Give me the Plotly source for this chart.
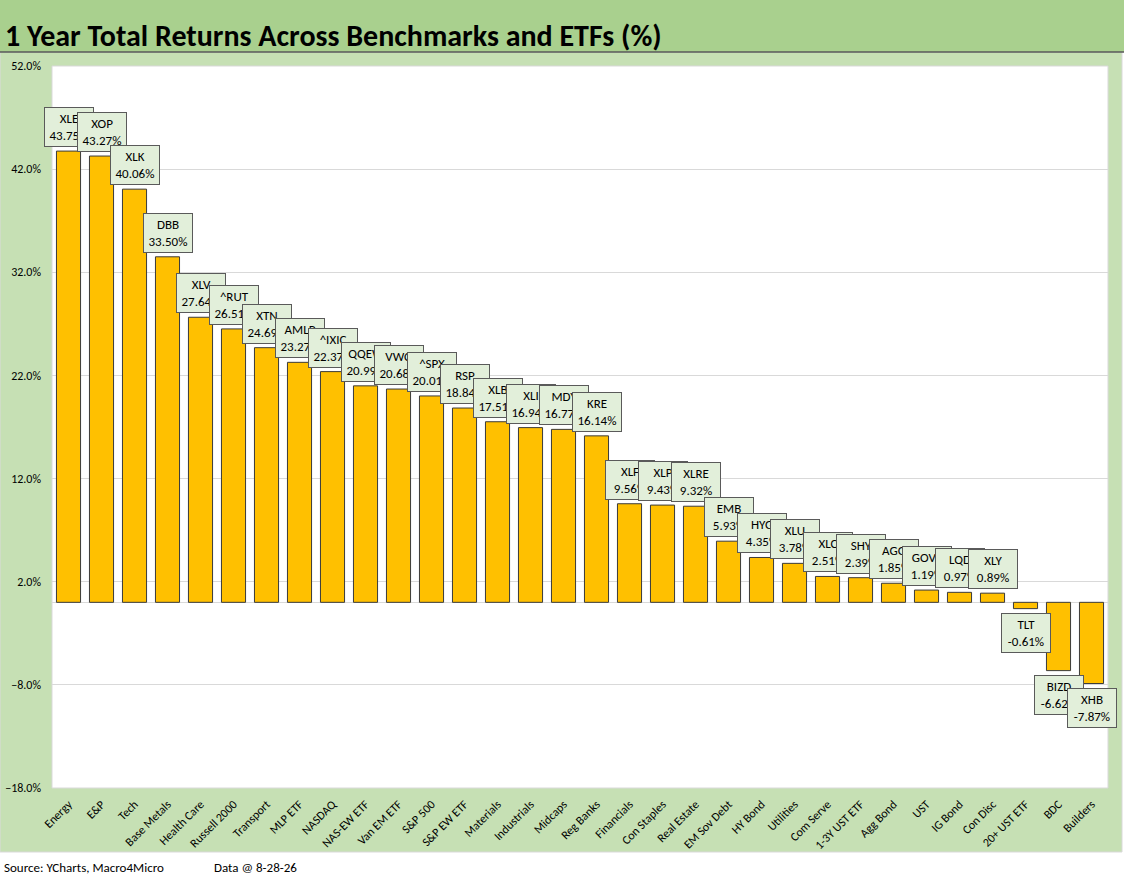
import plotly.graph_objects as go

categories = [
    "Energy", "E&P", "Tech", "Base Metals", "Health Care", "Russell 2000",
    "Transport", "MLP ETF", "NASDAQ", "NAS-EW ETF", "Van EM ETF", "S&P 500",
    "S&P EW ETF", "Materials", "Industrials", "Midcaps", "Reg Banks",
    "Financials", "Con Staples", "Real Estate", "EM Sov Debt", "HY Bond",
    "Utilities", "Com Serve", "1-3Y UST ETF", "Agg Bond", "UST", "IG Bond",
    "Con Disc", "20+ UST ETF", "BDC", "Builders",
]
tickers = [
    "XLE", "XOP", "XLK", "DBB", "XLV", "^RUT", "XTN", "AMLP", "^IXIC", "QQEW",
    "VWO", "^SPX", "RSP", "XLB", "XLI", "MDY", "KRE", "XLF", "XLP", "XLRE",
    "EMB", "HYG", "XLU", "XLC", "SHY", "AGG", "GOVT", "LQD", "XLY", "TLT",
    "BIZD", "XHB",
]
returns = [
    43.75, 43.27, 40.06, 33.50, 27.64, 26.51, 24.69, 23.27, 22.37, 20.99,
    20.68, 20.01, 18.84, 17.51, 16.94, 16.77, 16.14, 9.56, 9.43, 9.32,
    5.93, 4.35, 3.78, 2.51, 2.39, 1.85, 1.19, 0.97, 0.89, -0.61,
    -6.62, -7.87,
]

W, H = 1126, 885
L, R, T, B = 52, 18, 66, 97
FONT = "Carlito, Lato, Liberation Sans, sans-serif"


def px(x):
    return (x - L) / (W - L - R)


def py(y):
    return 1 - (y - T) / (H - T - B)


fig = go.Figure()

fig.add_trace(go.Bar(
    x=categories, y=returns,
    marker=dict(color="#ffc000", line=dict(color="#3a3a3a", width=1)),
    hoverinfo="x+y",
))

# data label boxes
for cat, tk, v in zip(categories, tickers, returns):
    pos = v >= 0
    fig.add_annotation(
        x=cat, y=v, xref="x", yref="y",
        text=f"{tk}<br>{v:.2f}%",
        showarrow=False,
        yanchor="bottom" if pos else "top",
        yshift=4 if pos else -4,
        font=dict(family=FONT, size=13, color="black"),
        bgcolor="#e2efda", bordercolor="#5a5a5a", borderwidth=1,
        borderpad=3, width=42,
    )

shapes = [
    # green chart area
    dict(type="rect", xref="paper", yref="paper",
         x0=px(0), x1=px(1122), y0=py(852), y1=py(52),
         fillcolor="#c6e0b4", line=dict(color="#d9d9d9", width=1), layer="below"),
    # white plot area
    dict(type="rect", xref="paper", yref="paper",
         x0=0, x1=1, y0=0, y1=1,
         fillcolor="white", line=dict(color="#d9d9d9", width=1), layer="below"),
    # title band
    dict(type="rect", xref="paper", yref="paper",
         x0=px(0), x1=px(1124), y0=py(52), y1=py(0),
         fillcolor="#a9d08e", line=dict(width=0), layer="below"),
    dict(type="line", xref="paper", yref="paper",
         x0=px(0), x1=px(1124), y0=py(52), y1=py(52),
         line=dict(color="#595959", width=1.5), layer="below"),
]

fig.add_annotation(
    xref="paper", yref="paper", x=px(3), y=py(35),
    xanchor="left", yanchor="middle", showarrow=False,
    text="<b>1 Year Total Returns Across Benchmarks and ETFs (%)</b>",
    font=dict(family=FONT, size=30, color="black"),
)
fig.add_annotation(
    xref="paper", yref="paper", x=px(2), y=py(867),
    xanchor="left", yanchor="middle", showarrow=False,
    text="Source: YCharts, Macro4Micro",
    font=dict(family=FONT, size=13, color="black"),
)
fig.add_annotation(
    xref="paper", yref="paper", x=px(212), y=py(867),
    xanchor="left", yanchor="middle", showarrow=False,
    text="Data @ 8-28-26",
    font=dict(family=FONT, size=13, color="black"),
)

fig.update_layout(
    width=W, height=H,
    margin=dict(l=L, r=R, t=T, b=B, autoexpand=False),
    paper_bgcolor="white",
    plot_bgcolor="white",
    bargap=0.27,
    showlegend=False,
    shapes=shapes,
    font=dict(family=FONT, color="black"),
)
fig.update_xaxes(
    range=[-0.5, len(categories) - 0.5], automargin=False,
    tickangle=-45, tickfont=dict(size=12, color="black"),
    showgrid=False, showline=False, ticks="", ticklabelstandoff=6,
)
fig.update_yaxes(
    range=[-18, 52], tick0=2, dtick=10, automargin=False,
    tickformat=".1f", ticksuffix="%",
    tickfont=dict(size=12, color="black"),
    showgrid=True, gridcolor="#d9d9d9", gridwidth=1,
    zeroline=True, zerolinecolor="#d9d9d9", zerolinewidth=1,
    ticks="", ticklabelstandoff=10,
)

fig.write_html(
    "out.html",
    config={"displayModeBar": False},
    post_script="document.body.style.margin='0';",
)
